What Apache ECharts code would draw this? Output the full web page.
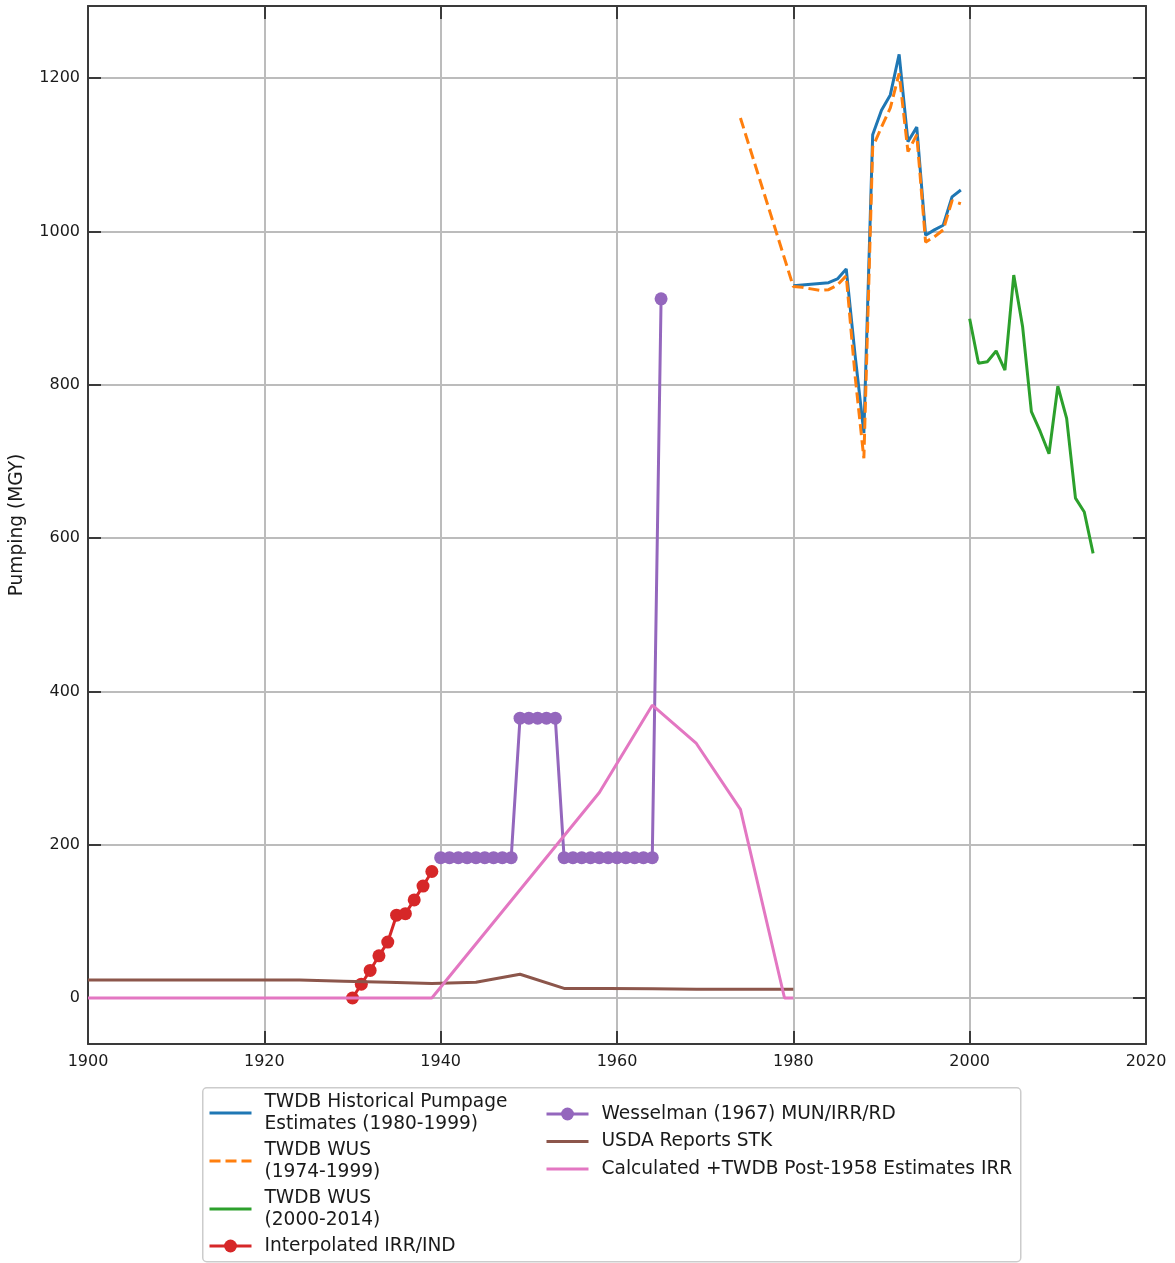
<!DOCTYPE html>
<html>
<head>
<meta charset="utf-8">
<title>Pumping (MGY)</title>
<script src="https://cdn.jsdelivr.net/npm/echarts@6/dist/echarts.min.js"></script>
<style>
  html, body { margin: 0; padding: 0; background: #ffffff; }
  #chart { width: 1175px; height: 1263px; }
</style>
</head>
<body>
<div id="chart"></div>
<script>
// TWDB Historical Pumpage Estimates (1980-1999)
const histYears = [1980, 1981, 1982, 1983, 1984, 1985, 1986, 1987, 1988, 1989,
                   1990, 1991, 1992, 1993, 1994, 1995, 1996, 1997, 1998, 1999];
const histVals  = [929, 930, 931, 932, 933, 938, 951, 839, 737, 1126,
                   1158, 1178, 1231, 1117, 1136, 995, 1002, 1008, 1045, 1054];

// TWDB WUS (1974-1999)
const wus74Years = [1974, 1980, 1981, 1982, 1983, 1984, 1985, 1986, 1987, 1988, 1989,
                    1990, 1991, 1992, 1993, 1994, 1995, 1996, 1997, 1998, 1999];
const wus74Vals  = [1148, 928, 927, 925, 923, 924, 930, 942, 812, 704, 1110,
                    1136, 1161, 1206, 1104, 1126, 986, 993, 1002, 1040, 1036];

// TWDB WUS (2000-2014)
const wus00Years = [2000, 2001, 2002, 2003, 2004, 2005, 2006, 2007,
                    2008, 2009, 2010, 2011, 2012, 2013, 2014];
const wus00Vals  = [886, 828, 830, 844, 819, 943, 876, 765,
                    739, 710, 798, 756, 652, 634, 580];

// Interpolated IRR/IND
const interpYears = [1930, 1931, 1932, 1933, 1934, 1935, 1936, 1937, 1938, 1939];
const interpVals  = [0, 18, 36, 55, 73, 108, 110, 128, 146, 165];

// Wesselman (1967) MUN/IRR/RD
const wessYears = [1940, 1941, 1942, 1943, 1944, 1945, 1946, 1947, 1948,
                   1949, 1950, 1951, 1952, 1953,
                   1954, 1955, 1956, 1957, 1958, 1959, 1960, 1961, 1962, 1963, 1964,
                   1965];
const wessVals  = [183, 183, 183, 183, 183, 183, 183, 183, 183,
                   365, 365, 365, 365, 365,
                   183, 183, 183, 183, 183, 183, 183, 183, 183, 183, 183,
                   912];

// USDA Reports STK
const usdaYears = [1900, 1924, 1929, 1934, 1939, 1944, 1949, 1954, 1959, 1964, 1969, 1974, 1980];
const usdaVals  = [23.5, 23.5, 22, 20.5, 19, 20.5, 31, 12.5, 12.5, 12, 11.5, 11.5, 11.5];

// Calculated +TWDB Post-1958 Estimates IRR
const calcYears = [1900, 1939, 1958, 1964, 1969, 1974, 1979, 1980];
const calcVals  = [0, 0, 268, 382, 332, 246, 0, 0];

// Axis ticks
const yTicks = [0, 200, 400, 600, 800, 1000, 1200];

const pairs = (xs, ys) => xs.map((x, i) => [x, ys[i]]);

const FONT = 'DejaVu Sans';
const TEXT = '#1a1a1a';
const FRAME = '#3a3a3a';
const GRIDC = '#bcbcbc';

const legendText = { fontFamily: FONT, fontSize: 18.6, color: TEXT, lineHeight: 22, padding: [0, 0, 0, 8] };

// legend entry for a plain line: hide the marker the line legend icon draws by default
const plainEntry = name => ({ name: name, itemStyle: { opacity: 0 } });

const lineSeries = (name, xs, ys, color, extra) => Object.assign({
  name: name,
  type: 'line',
  data: pairs(xs, ys),
  showSymbol: false,
  symbol: 'none',
  lineStyle: { color: color, width: 3 },
  itemStyle: { color: color },
  animation: false,
  silent: true
}, extra || {});

const chart = echarts.init(document.getElementById('chart'), null, { renderer: 'canvas' });

chart.setOption({
  backgroundColor: '#ffffff',
  animation: false,
  grid: { left: 88, right: 29, top: 6, bottom: 219, containLabel: false },
  xAxis: [
    {
      type: 'value', min: 1900, max: 2020, interval: 20,
      axisLine: { show: true, onZero: false, lineStyle: { color: FRAME, width: 2 } },
      axisTick: { show: true, inside: true, length: 13, lineStyle: { color: FRAME, width: 2 } },
      axisLabel: { fontFamily: FONT, fontSize: 16, color: TEXT, margin: 10, formatter: v => String(v) },
      splitLine: { show: true, lineStyle: { color: GRIDC, width: 2 } }
    },
    {
      type: 'value', position: 'top', min: 1900, max: 2020, interval: 20,
      axisLine: { show: true, onZero: false, lineStyle: { color: FRAME, width: 2 } },
      axisTick: { show: true, inside: true, length: 13, lineStyle: { color: FRAME, width: 2 } },
      axisLabel: { show: false },
      splitLine: { show: false }
    }
  ],
  yAxis: [
    {
      type: 'value', min: -60, max: 1294,
      name: 'Pumping (MGY)', nameLocation: 'middle', nameGap: 61, nameRotate: 90,
      nameTextStyle: { fontFamily: FONT, fontSize: 18.6, color: TEXT },
      axisLine: { show: true, onZero: false, lineStyle: { color: FRAME, width: 2 } },
      axisTick: { show: true, inside: true, length: 13, customValues: yTicks, lineStyle: { color: FRAME, width: 2 } },
      axisLabel: { fontFamily: FONT, fontSize: 16, color: TEXT, margin: 8, customValues: yTicks,
                   formatter: v => String(v) },
      splitLine: { show: true, lineStyle: { color: GRIDC, width: 2 } }
    },
    {
      type: 'value', position: 'right', min: -60, max: 1294,
      axisLine: { show: true, onZero: false, lineStyle: { color: FRAME, width: 2 } },
      axisTick: { show: true, inside: true, length: 13, customValues: yTicks, lineStyle: { color: FRAME, width: 2 } },
      axisLabel: { show: false, customValues: yTicks },
      splitLine: { show: false }
    }
  ],
  legend: [
    {
      orient: 'vertical', left: 203, top: 1086, itemGap: 4, itemWidth: 42, itemHeight: 16,
      textStyle: legendText, selectedMode: false, lineStyle: { width: 3 },
      data: [plainEntry('TWDB Historical Pumpage\nEstimates (1980-1999)'),
             plainEntry('TWDB WUS\n(1974-1999)'),
             plainEntry('TWDB WUS\n(2000-2014)'),
             'Interpolated IRR/IND']
    },
    {
      orient: 'vertical', left: 540, top: 1098, itemGap: 5.5, itemWidth: 42, itemHeight: 16,
      textStyle: legendText, selectedMode: false, lineStyle: { width: 3 },
      data: ['Wesselman (1967) MUN/IRR/RD',
             plainEntry('USDA Reports STK'),
             plainEntry('Calculated +TWDB Post-1958 Estimates IRR')]
    }
  ],
  graphic: [
    {
      type: 'rect', left: 202, top: 1087, z: -1,
      shape: { width: 818, height: 174, r: 4 },
      style: { fill: '#ffffff', stroke: '#cccccc', lineWidth: 1.5 }
    }
  ],
  series: [
    lineSeries('TWDB Historical Pumpage\nEstimates (1980-1999)', histYears, histVals, '#1f77b4', { z: 2 }),
    lineSeries('TWDB WUS\n(1974-1999)', wus74Years, wus74Vals, '#ff7f0e',
      { z: 3, lineStyle: { color: '#ff7f0e', width: 3, type: [11, 5] } }),
    lineSeries('TWDB WUS\n(2000-2014)', wus00Years, wus00Vals, '#2ca02c', { z: 4 }),
    lineSeries('Interpolated IRR/IND', interpYears, interpVals, '#d62728',
      { z: 5, symbol: 'circle', showSymbol: true, symbolSize: 13 }),
    lineSeries('Wesselman (1967) MUN/IRR/RD', wessYears, wessVals, '#9467bd',
      { z: 6, symbol: 'circle', showSymbol: true, symbolSize: 13 }),
    lineSeries('USDA Reports STK', usdaYears, usdaVals, '#8c564b', { z: 7 }),
    lineSeries('Calculated +TWDB Post-1958 Estimates IRR', calcYears, calcVals, '#e377c2', { z: 8 })
  ]
});
</script>
</body>
</html>
